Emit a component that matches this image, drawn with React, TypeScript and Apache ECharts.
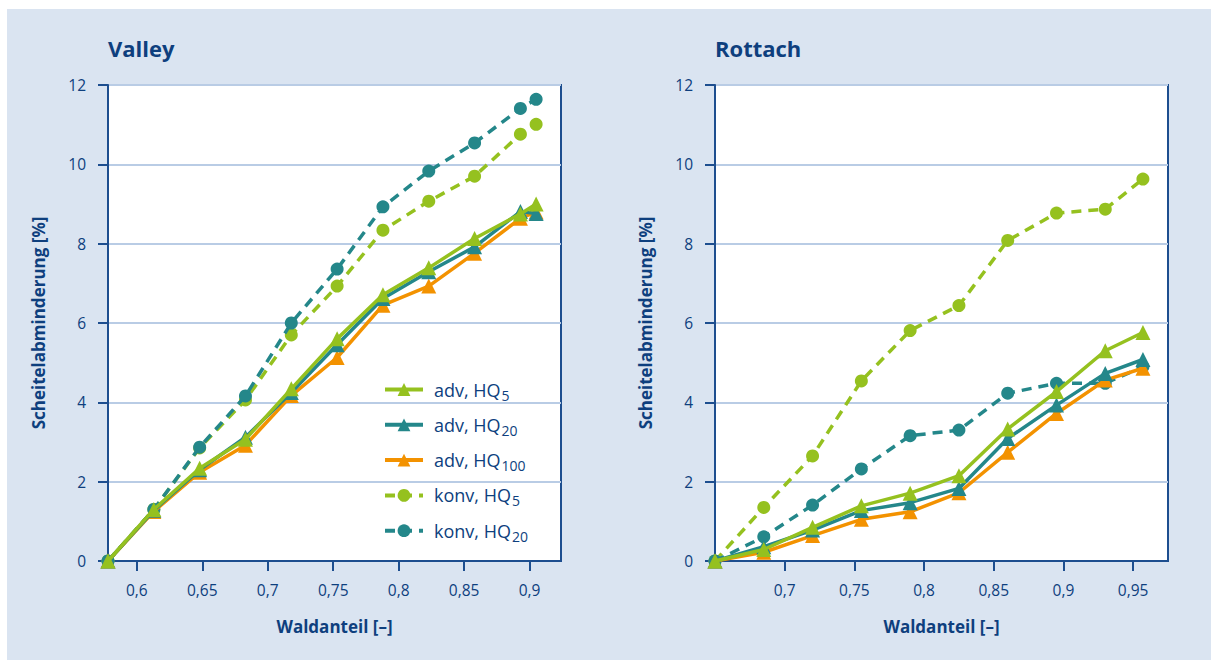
import React, { useEffect, useRef } from "react";
import * as echarts from "echarts";

// ---- Data ----
const valleyX = [0.578, 0.613, 0.648, 0.683, 0.718, 0.753, 0.788, 0.823, 0.858, 0.893, 0.905];
const valleyAdvHQ5 = [0, 1.3, 2.34, 3.07, 4.34, 5.6, 6.71, 7.39, 8.13, 8.75, 9.0];
const valleyAdvHQ20 = [0, 1.28, 2.3, 3.12, 4.25, 5.45, 6.62, 7.29, 7.92, 8.81, 8.76];
const valleyAdvHQ100 = [0, 1.25, 2.24, 2.92, 4.17, 5.13, 6.45, 6.93, 7.76, 8.64, 8.8];
const valleyKonvHQ5 = [0, 1.3, 2.85, 4.06, 5.7, 6.93, 8.34, 9.07, 9.7, 10.76, 11.01];
const valleyKonvHQ20 = [0, 1.3, 2.87, 4.16, 6.0, 7.36, 8.93, 9.83, 10.54, 11.41, 11.64];

const rottachX = [0.65, 0.685, 0.72, 0.755, 0.79, 0.825, 0.86, 0.895, 0.93, 0.957];
const rottachAdvHQ5 = [0, 0.29, 0.85, 1.39, 1.71, 2.15, 3.33, 4.27, 5.3, 5.76];
const rottachAdvHQ20 = [0, 0.36, 0.78, 1.27, 1.47, 1.83, 3.09, 3.93, 4.73, 5.08];
const rottachAdvHQ100 = [0, 0.22, 0.64, 1.05, 1.24, 1.72, 2.74, 3.72, 4.56, 4.86];
const rottachKonvHQ5 = [0, 1.35, 2.65, 4.54, 5.81, 6.44, 8.08, 8.77, 8.87, 9.63];
const rottachKonvHQ20 = [0, 0.61, 1.41, 2.32, 3.16, 3.3, 4.23, 4.48, 4.48, 4.9];

const valleyTicks = [0.6, 0.65, 0.7, 0.75, 0.8, 0.85, 0.9];
const rottachTicks = [0.7, 0.75, 0.8, 0.85, 0.9, 0.95];
const yTicks = [0, 2, 4, 6, 8, 10, 12];

const titles = ["Valley", "Rottach"];
const xName = "Waldanteil [–]";
const yName = "Scheitelabminderung [%]";

const names = ["adv, HQ5", "adv, HQ20", "adv, HQ100", "konv, HQ5", "konv, HQ20"];
const legendRich: Record<string, string> = {
  "adv, HQ5": "{a|adv, HQ}{s|5}",
  "adv, HQ20": "{a|adv, HQ}{s|20}",
  "adv, HQ100": "{a|adv, HQ}{s|100}",
  "konv, HQ5": "{a|konv, HQ}{s|5}",
  "konv, HQ20": "{a|konv, HQ}{s|20}",
};

// ---- Styles ----
const NAVY = "#0e3f7e";
const AXIS = "#1d4e8f";
const GRID = "#b9cce5";
const GREEN = "#95c11f";
const TEAL = "#24878a";
const ORANGE = "#f39200";
const BG = "#dae4f1";
const FONT = "Open Sans";

const zip = (xs: number[], ys: number[]) => xs.map((x, i) => [x, ys[i]]);

function makeSeries(idx: number, xs: number[], sets: number[][]) {
  const [a5, a20, a100, k5, k20] = sets;
  const common = { xAxisIndex: idx, yAxisIndex: idx, type: "line" as const };
  const dashed = { type: [10, 7] as any, width: 3.5 };
  return [
    { ...common, name: names[3], data: zip(xs, k5), symbol: "circle", symbolSize: 13, color: GREEN, lineStyle: { ...dashed, color: GREEN }, itemStyle: { color: GREEN }, z: 2 },
    { ...common, name: names[4], data: zip(xs, k20), symbol: "circle", symbolSize: 13, color: TEAL, lineStyle: { ...dashed, color: TEAL }, itemStyle: { color: TEAL }, z: 3 },
    { ...common, name: names[2], data: zip(xs, a100), symbol: "triangle", symbolSize: 15, color: ORANGE, lineStyle: { width: 3.5, color: ORANGE }, itemStyle: { color: ORANGE }, z: 4 },
    { ...common, name: names[1], data: zip(xs, a20), symbol: "triangle", symbolSize: 15, color: TEAL, lineStyle: { width: 3.5, color: TEAL }, itemStyle: { color: TEAL }, z: 5 },
    { ...common, name: names[0], data: zip(xs, a5), symbol: "triangle", symbolSize: 15, color: GREEN, lineStyle: { width: 3.5, color: GREEN }, itemStyle: { color: GREEN }, z: 6 },
  ];
}

function xAxis(idx: number, min: number, max: number, ticks: number[]) {
  return {
    type: "value",
    gridIndex: idx,
    min,
    max,
    name: xName,
    nameLocation: "middle",
    nameGap: 57,
    nameTextStyle: { color: NAVY, fontFamily: FONT, fontSize: 17, fontWeight: "bold" },
    axisLine: { show: true, lineStyle: { color: AXIS, width: 2 } },
    axisTick: { show: true, length: 10, lineStyle: { color: AXIS, width: 2 }, customValues: ticks },
    axisLabel: {
      customValues: ticks,
      margin: 21,
      color: NAVY,
      fontFamily: FONT,
      fontSize: 15.5,
      formatter: (v: number) => String(Math.round(v * 100) / 100).replace(".", ","),
    },
    splitLine: { show: false },
  };
}

function yAxis(idx: number) {
  return {
    type: "value",
    gridIndex: idx,
    min: 0,
    max: 12,
    interval: 2,
    name: yName,
    nameLocation: "middle",
    nameGap: 61,
    nameTextStyle: { color: NAVY, fontFamily: FONT, fontSize: 17, fontWeight: "bold" },
    axisLine: { show: true, lineStyle: { color: AXIS, width: 2 } },
    axisTick: { show: true, length: 10, lineStyle: { color: AXIS, width: 2 }, customValues: yTicks },
    axisLabel: { customValues: yTicks, margin: 22, color: NAVY, fontFamily: FONT, fontSize: 15.5 },
    splitLine: { show: true, lineStyle: { color: GRID, width: 2 } },
  };
}

export default function App() {
  const ref = useRef<HTMLDivElement>(null);
  useEffect(() => {
    if (!ref.current) return;
    const chart = echarts.init(ref.current, undefined, { renderer: "svg" });
    chart.setOption({
      animation: false,
      backgroundColor: "transparent",
      title: [
        { text: titles[0], left: 108, top: 37, padding: 0, textStyle: { color: NAVY, fontFamily: FONT, fontSize: 22, fontWeight: "bold" } },
        { text: titles[1], left: 715, top: 37, padding: 0, textStyle: { color: NAVY, fontFamily: FONT, fontSize: 22, fontWeight: "bold" } },
      ],
      grid: [
        { left: 108, top: 85, width: 453, height: 476, show: true, backgroundColor: "#ffffff", borderColor: AXIS, borderWidth: 2 },
        { left: 715, top: 85, width: 453, height: 476, show: true, backgroundColor: "#ffffff", borderColor: AXIS, borderWidth: 2 },
      ],
      legend: {
        data: names.map((n) => ({ name: n, lineStyle: { width: 4 } })),
        orient: "vertical",
        left: 378,
        top: 372,
        itemWidth: 38,
        itemHeight: 16,
        itemGap: 10.3,
        selectedMode: false,
        lineStyle: { width: 4 },
        formatter: (n: string) => legendRich[n] || n,
        textStyle: {
          color: NAVY,
          fontFamily: FONT,
          rich: {
            a: { fontSize: 18, fontFamily: FONT, color: NAVY, lineHeight: 20, padding: [0, 0, 0, 6] },
            s: { fontSize: 14, fontFamily: FONT, color: NAVY, lineHeight: 20, padding: [11, 0, 0, 1] },
          },
        },
      },
      xAxis: [xAxis(0, 0.578, 0.924, valleyTicks), xAxis(1, 0.65, 0.975, rottachTicks)],
      yAxis: [yAxis(0), yAxis(1)],
      series: [
        ...makeSeries(0, valleyX, [valleyAdvHQ5, valleyAdvHQ20, valleyAdvHQ100, valleyKonvHQ5, valleyKonvHQ20]),
        ...makeSeries(1, rottachX, [rottachAdvHQ5, rottachAdvHQ20, rottachAdvHQ100, rottachKonvHQ5, rottachKonvHQ20]),
      ],
    });
    return () => chart.dispose();
  }, []);
  return (
    <div style={{ position: "fixed", left: 0, top: 0, width: 1211, height: 660, background: "#ffffff" }}>
      <div style={{ position: "absolute", left: 7, top: 9, width: 1204, height: 651, background: BG }} />
      <div ref={ref} style={{ position: "absolute", left: 0, top: 0, width: 1211, height: 660 }} />
    </div>
  );
}
